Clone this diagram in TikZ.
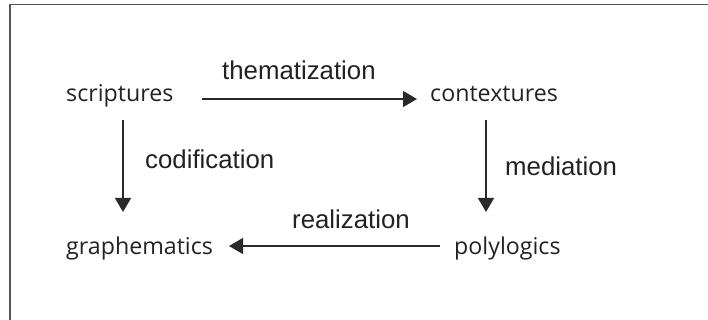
\documentclass[tikz,border=0pt]{standalone}
\usepackage{fontspec}
\usetikzlibrary{arrows.meta}
\newfontfamily\nodefont{Open Sans}
\newfontfamily\labelfont{Liberation Sans}
\definecolor{txt}{HTML}{222222}
\definecolor{ln}{HTML}{2A2A2A}
\definecolor{frm}{HTML}{555555}
\begin{document}
\begin{tikzpicture}[x=1pt,y=-1pt,
  term/.style={anchor=base west,inner sep=0pt,text=txt,font=\nodefont\fontsize{23.2}{26}\selectfont},
  lab/.style={anchor=base west,inner sep=0pt,text=txt,font=\labelfont\fontsize{25.8}{28}\selectfont},
  conn/.style={draw=ln,line width=1.3pt,-{Triangle[length=14pt,width=16pt]}}]
\useasboundingbox (0,0) rectangle (708,320);
\draw[frm,line width=1.3pt] (10,320) -- (10,4.5) -- (708,4.5);
\node[term] (scr) at (66,102) {scriptures};
\node[term] (ctx) at (430,102) {contextures};
\node[term] (gra) at (66,254) {graphematics};
\node[term] (pol) at (454,254) {polylogics};
\node[lab] (them) at (222,80) {thematization};
\node[lab] (cod) at (145,169) {codification};
\node[lab] (med) at (505,176) {mediation};
\node[lab] (rea) at (292,228) {realization};
\coordinate (s1) at (202,99);
\coordinate (s2) at (417,99);
\coordinate (d1) at (123,120);
\coordinate (d2) at (123,212);
\coordinate (m1) at (486,120);
\coordinate (m2) at (486,212);
\coordinate (r1) at (440,246);
\coordinate (r2) at (229,246);
\draw[conn] (s1) -- (s2);
\draw[conn] (d1) -- (d2);
\draw[conn] (m1) -- (m2);
\draw[conn] (r1) -- (r2);
\end{tikzpicture}
\end{document}
